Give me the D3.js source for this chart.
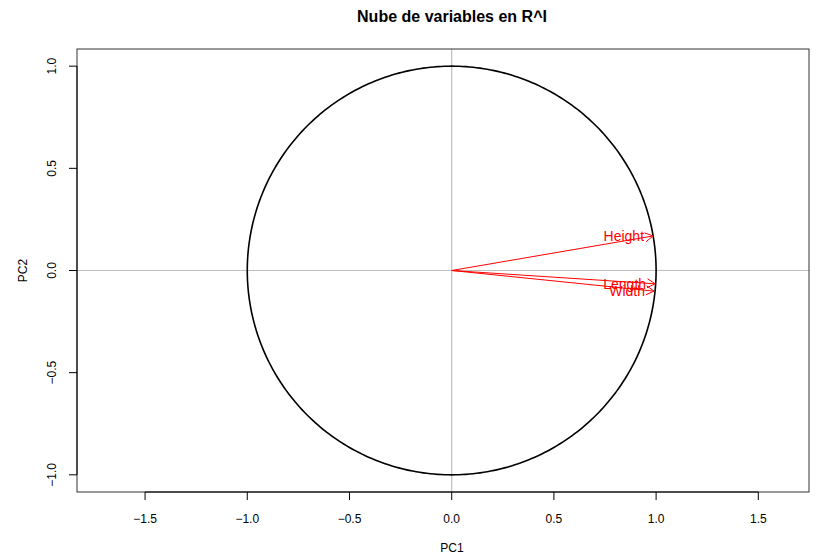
<!DOCTYPE html>
<html><head><meta charset="utf-8">
<script src="https://cdn.jsdelivr.net/npm/d3@7"></script>
<style>body{margin:0;background:#fff}svg{display:block;font-family:"Liberation Sans",Arial,sans-serif}</style>
</head><body>
<svg id="chart" width="824" height="560"></svg>
<script>
const variables = ["Height", "Length", "Width"];
const pc1 = [0.985, 0.995, 0.990];
const pc2 = [0.169, -0.065, -0.101];
const xTicks = [-1.5, -1.0, -0.5, 0.0, 0.5, 1.0, 1.5];
const yTicks = [-1.0, -0.5, 0.0, 0.5, 1.0];
const xDomain = [-1.833, 1.748];
const yDomain = [-1.084, 1.084];

const svg = d3.select("#chart");
const L = 77, R = 809, T = 49, B = 492;
const x = d3.scaleLinear().domain(xDomain).range([L, R]);
const y = d3.scaleLinear().domain(yDomain).range([B, T]);
const fmt = v => d3.format(".1f")(v).replace("-", "\u2212");

// reference lines
svg.append("line").attr("x1", L).attr("x2", R).attr("y1", y(0)).attr("y2", y(0))
  .attr("stroke", "#bebebe").attr("stroke-width", 1.2);
svg.append("line").attr("x1", x(0)).attr("x2", x(0)).attr("y1", T).attr("y2", B)
  .attr("stroke", "#bebebe").attr("stroke-width", 1.2);

// unit circle
const circ = d3.range(0, 361).map(a => [Math.cos(a * Math.PI / 180), Math.sin(a * Math.PI / 180)]);
svg.append("path").attr("d", d3.line().x(d => x(d[0])).y(d => y(d[1]))(circ))
  .attr("fill", "none").attr("stroke", "#000").attr("stroke-width", 1.6);

// arrows
const head = 9, ang = Math.PI / 6;
variables.forEach((v, i) => {
  const x0 = x(0), y0 = y(0), x1 = x(pc1[i]), y1 = y(pc2[i]);
  const th = Math.atan2(y1 - y0, x1 - x0);
  const g = svg.append("g").attr("stroke", "#ff0000").attr("fill", "none").attr("stroke-width", 1);
  g.append("line").attr("x1", x0).attr("y1", y0).attr("x2", x1).attr("y2", y1);
  g.append("path").attr("d",
    `M${x1 - head * Math.cos(th - ang)},${y1 - head * Math.sin(th - ang)}L${x1},${y1}L${x1 - head * Math.cos(th + ang)},${y1 - head * Math.sin(th + ang)}`);
  svg.append("text").attr("x", x1 - 9).attr("y", y1).attr("dy", "0.35em")
    .attr("text-anchor", "end").attr("fill", "#ff0000").attr("font-size", 14).text(v);
});

// box
svg.append("rect").attr("x", L).attr("y", T).attr("width", R - L).attr("height", B - T)
  .attr("fill", "none").attr("stroke", "#333").attr("stroke-width", 1);

// x axis
const xa = svg.append("g");
xa.append("line").attr("x1", x(xTicks[0])).attr("x2", x(xTicks[xTicks.length - 1]))
  .attr("y1", B).attr("y2", B).attr("stroke", "#000");
xTicks.forEach(t => {
  xa.append("line").attr("x1", x(t)).attr("x2", x(t)).attr("y1", B).attr("y2", B + 8).attr("stroke", "#000");
  xa.append("text").attr("x", x(t)).attr("y", 523).attr("text-anchor", "middle")
    .attr("font-size", 12).text(fmt(t));
});
// y axis
const ya = svg.append("g");
ya.append("line").attr("y1", y(yTicks[0])).attr("y2", y(yTicks[yTicks.length - 1]))
  .attr("x1", L).attr("x2", L).attr("stroke", "#000");
yTicks.forEach(t => {
  ya.append("line").attr("y1", y(t)).attr("y2", y(t)).attr("x1", L).attr("x2", L - 8).attr("stroke", "#000");
  ya.append("text").attr("transform", `translate(56,${y(t)}) rotate(-90)`).attr("text-anchor", "middle")
    .attr("font-size", 12).text(fmt(t));
});

svg.append("text").attr("x", 452).attr("y", 552).attr("text-anchor", "middle").attr("font-size", 12).text("PC1");
svg.append("text").attr("transform", `translate(27,${y(0)}) rotate(-90)`).attr("text-anchor", "middle")
  .attr("font-size", 12).text("PC2");
svg.append("text").attr("x", 452).attr("y", 22).attr("text-anchor", "middle").attr("font-size", 16)
  .attr("font-weight", "bold").text("Nube de variables en R^I");
</script>
</body></html>
